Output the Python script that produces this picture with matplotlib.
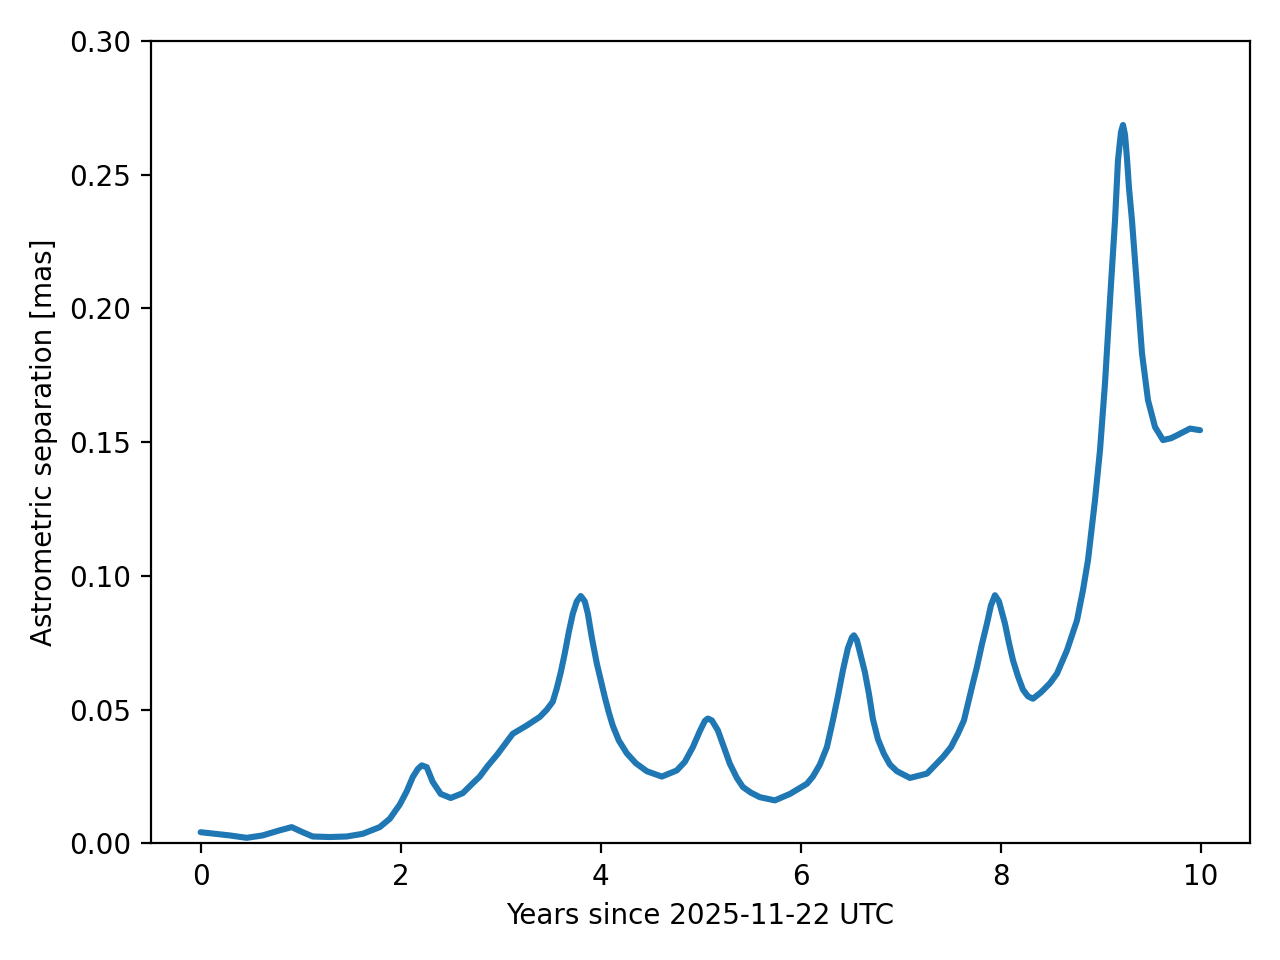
import numpy as np
import matplotlib
matplotlib.use("Agg")
import matplotlib.pyplot as plt

# values
years = [0.00, 0.15, 0.29, 0.46, 0.62, 0.79, 0.91, 1.02, 1.12, 1.29, 1.46, 1.62, 1.79, 1.89,
         1.99, 2.06, 2.12, 2.17, 2.21, 2.26, 2.32, 2.40, 2.50, 2.62, 2.72, 2.79, 2.87, 2.96,
         3.05, 3.12, 3.26, 3.39, 3.46, 3.52, 3.56, 3.60, 3.64, 3.68, 3.72, 3.76, 3.80, 3.84,
         3.87, 3.91, 3.96, 4.00, 4.04, 4.08, 4.12, 4.18, 4.26, 4.35, 4.46, 4.61, 4.76, 4.84,
         4.92, 4.99, 5.04, 5.07, 5.11, 5.17, 5.23, 5.29, 5.36, 5.42, 5.50, 5.59, 5.74, 5.89,
         6.06, 6.12, 6.19, 6.26, 6.32, 6.37, 6.42, 6.47, 6.51, 6.53, 6.56, 6.60, 6.64, 6.68,
         6.72, 6.77, 6.83, 6.89, 6.96, 7.09, 7.26, 7.42, 7.50, 7.57, 7.63, 7.67, 7.72, 7.76,
         7.81, 7.86, 7.90, 7.94, 7.98, 8.04, 8.08, 8.12, 8.17, 8.22, 8.27, 8.32, 8.40, 8.49,
         8.56, 8.66, 8.76, 8.82, 8.87, 8.94, 8.99, 9.04, 9.09, 9.14, 9.17, 9.20, 9.22, 9.24,
         9.26, 9.28, 9.31, 9.36, 9.41, 9.47, 9.54, 9.62, 9.70, 9.76, 9.89, 9.99]
sep = [0.0042, 0.0036, 0.0030, 0.0021, 0.0030, 0.0049, 0.0061, 0.0042, 0.0026, 0.0024, 0.0026,
       0.0036, 0.0061, 0.0092, 0.0145, 0.0195, 0.0248, 0.0278, 0.0292, 0.0285, 0.0230, 0.0185,
       0.0170, 0.0188, 0.0225, 0.0250, 0.0290, 0.0330, 0.0375, 0.0410, 0.0441, 0.0473, 0.0500,
       0.0530, 0.0580, 0.0640, 0.0711, 0.0790, 0.0859, 0.0905, 0.0925, 0.0905, 0.0860, 0.0770,
       0.0673, 0.0610, 0.0547, 0.0490, 0.0440, 0.0385, 0.0337, 0.0300, 0.0270, 0.0250, 0.0273,
       0.0305, 0.0360, 0.0420, 0.0458, 0.0467, 0.0460, 0.0423, 0.0360, 0.0298, 0.0245, 0.0211,
       0.0190, 0.0173, 0.0161, 0.0185, 0.0223, 0.0250, 0.0295, 0.0360, 0.0460, 0.0550, 0.0647,
       0.0730, 0.0770, 0.0778, 0.0760, 0.0700, 0.0640, 0.0560, 0.0465, 0.0390, 0.0335, 0.0295,
       0.0270, 0.0245, 0.0261, 0.0323, 0.0360, 0.0410, 0.0460, 0.0523, 0.0600, 0.0660, 0.0745,
       0.0822, 0.0890, 0.0928, 0.0905, 0.0822, 0.0750, 0.0685, 0.0625, 0.0575, 0.0550, 0.0541,
       0.0565, 0.0599, 0.0635, 0.0722, 0.0834, 0.0947, 0.1059, 0.1283, 0.1470, 0.1720, 0.2031,
       0.2328, 0.2555, 0.2660, 0.2686, 0.2650, 0.2560, 0.2450, 0.2328, 0.2081, 0.1832, 0.1657,
       0.1557, 0.1508, 0.1515, 0.1526, 0.1551, 0.1545]

fig, ax = plt.subplots(figsize=(6.4, 4.8), dpi=200)
ax.plot(years, sep, color='tab:blue', linewidth=2.2,
        solid_joinstyle='round', solid_capstyle='round')
ax.set_ylim(0, 0.3)
ax.set_xlabel('Years since 2025-11-22 UTC')
ax.set_ylabel('Astrometric separation [mas]')
fig.tight_layout()
fig.savefig('out.png', dpi=200)
